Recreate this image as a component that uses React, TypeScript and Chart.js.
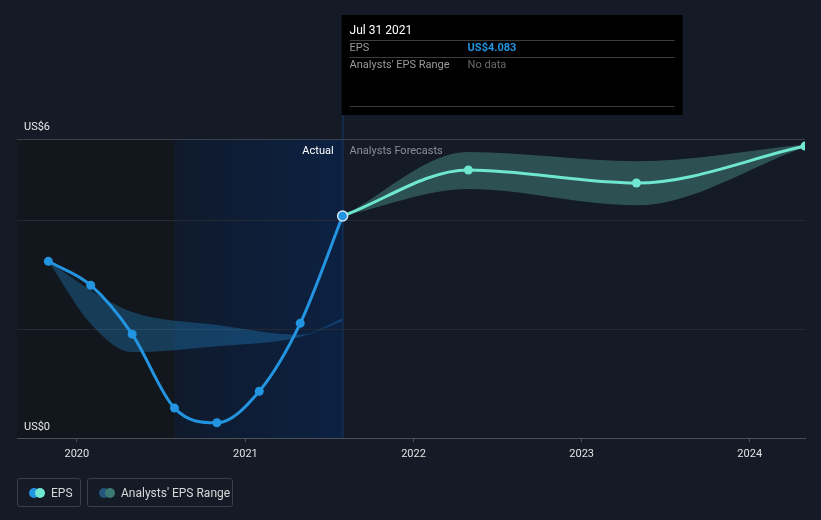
import React, { useEffect, useRef } from "react";
import { Chart, registerables } from "chart.js";

Chart.register(...registerables);

const actualDates = ["2019-10-31", "2020-01-31", "2020-04-30", "2020-07-31", "2020-10-31", "2021-01-31", "2021-04-30", "2021-07-31"];
const actualEps = [3.25, 2.81, 1.91, 0.55, 0.28, 0.86, 2.11, 4.083];
const forecastDates = ["2021-07-31", "2022-04-30", "2023-04-30", "2024-04-30"];
const forecastEps = [4.083, 4.93, 4.69, 5.37];
const forecastLow = [4.083, 4.58, 4.28, 5.35];
const forecastHigh = [4.083, 5.26, 5.09, 5.4];
const pastRangeDates = ["2019-10-31", "2020-01-31", "2020-04-30", "2020-10-31", "2021-04-30", "2021-07-31"];
const pastLow = [3.25, 2.1, 1.58, 1.69, 1.86, 2.15];
const pastHigh = [3.25, 2.72, 2.32, 2.08, 1.9, 2.2];
const yearTicks = [2020, 2021, 2022, 2023, 2024];
const yTickValues = [0, 2, 4, 5.5];
const yLabelTop = "US$6";
const yLabelBottom = "US$0";
const highlightStart = "2020-07-31";
const highlightEnd = "2021-07-31";
const tooltipDate = "Jul 31 2021";
const tooltipEps = "US$4.083";

const t = (d: string) => Date.parse(d + "T00:00:00Z");
const pts = (dates: string[], vals: number[]) => dates.map((d, i) => ({ x: t(d), y: vals[i] }));

const FONT = "Roboto, 'Noto Sans', sans-serif";

const overlayPlugin = {
  id: "overlay",
  beforeDraw(chart: any) {
    const { ctx, chartArea: a, scales } = chart;
    const x = scales.x;
    const x1 = x.getPixelForValue(t(highlightStart));
    const x2 = x.getPixelForValue(t(highlightEnd));
    ctx.save();
    ctx.fillStyle = "#12161d";
    ctx.fillRect(a.left, a.top, x1 - a.left, a.bottom - a.top);
    const g = ctx.createLinearGradient(x1, 0, x2, 0);
    g.addColorStop(0, "#0f1a2c");
    g.addColorStop(1, "#0c2142");
    ctx.fillStyle = g;
    ctx.fillRect(x1, a.top, x2 - x1, a.bottom - a.top);
    ctx.fillStyle = "#123058";
    ctx.fillRect(x2 - 0.5, 115, 1.5, a.bottom - 115);
    ctx.restore();
  },
  afterDraw(chart: any) {
    const { ctx, chartArea: a, scales } = chart;
    const x2 = scales.x.getPixelForValue(t(highlightEnd));
    ctx.save();
    ctx.font = `11px ${FONT}`;
    ctx.textBaseline = "middle";
    ctx.fillStyle = "#e8e8e8";
    ctx.textAlign = "left";
    ctx.fillText(yLabelTop, 24, a.top - 12);
    ctx.fillText(yLabelBottom, 24, a.bottom - 11);
    ctx.textAlign = "right";
    ctx.fillStyle = "#ffffff";
    ctx.fillText("Actual", x2 - 9, a.top + 12);
    ctx.textAlign = "left";
    ctx.fillStyle = "#8a8f98";
    ctx.fillText("Analysts Forecasts", x2 + 7, a.top + 12);

    // tooltip
    const left = x2 - 1;
    ctx.fillStyle = "#000000";
    ctx.fillRect(left, 15, 341, 100);
    ctx.fillStyle = "#ffffff";
    ctx.font = `12px ${FONT}`;
    ctx.fillText(tooltipDate, left + 8, 31);
    ctx.fillStyle = "#3c3c3c";
    ctx.fillRect(left + 8, 40, 325, 1);
    ctx.fillRect(left + 8, 57, 325, 1);
    ctx.fillRect(left + 8, 106, 325, 1);
    ctx.font = `11px ${FONT}`;
    ctx.fillStyle = "#9a9a9a";
    ctx.fillText("EPS", left + 8, 48);
    ctx.fillText("Analysts' EPS Range", left + 8, 65);
    ctx.fillStyle = "#2394df";
    ctx.font = `bold 11px ${FONT}`;
    ctx.fillText(tooltipEps, left + 126, 48);
    ctx.fillStyle = "#6a6a6a";
    ctx.font = `11px ${FONT}`;
    ctx.fillText("No data", left + 126, 65);
    ctx.restore();
  },
};

export default function App() {
  const ref = useRef<HTMLCanvasElement>(null);
  useEffect(() => {
    if (!ref.current) return;
    Chart.defaults.font.family = FONT;
    const lastIdx = actualEps.length - 1;
    const chart = new Chart(ref.current, {
      type: "line",
      data: {
        datasets: [
          {
            label: "pastLow",
            data: pts(pastRangeDates, pastLow),
            borderWidth: 0,
            pointRadius: 0,
            cubicInterpolationMode: "monotone",
            fill: false,
            order: 3,
          },
          {
            label: "pastHigh",
            data: pts(pastRangeDates, pastHigh),
            borderWidth: 0,
            pointRadius: 0,
            cubicInterpolationMode: "monotone",
            backgroundColor: "rgba(35,148,223,0.3)",
            fill: { target: 0 },
            order: 3,
          },
          {
            label: "fcLow",
            data: pts(forecastDates, forecastLow),
            borderWidth: 0,
            pointRadius: 0,
            cubicInterpolationMode: "monotone",
            fill: false,
            order: 3,
          },
          {
            label: "fcHigh",
            data: pts(forecastDates, forecastHigh),
            borderWidth: 0,
            pointRadius: 0,
            cubicInterpolationMode: "monotone",
            backgroundColor: "rgba(110,230,208,0.27)",
            fill: { target: 2 },
            order: 3,
          },
          {
            label: "EPS forecast",
            data: pts(forecastDates, forecastEps),
            borderColor: "#6ee6d0",
            backgroundColor: "#6ee6d0",
            borderWidth: 3,
            pointRadius: forecastEps.map((_, i) => (i === 0 ? 0 : 4.5)),
            pointBorderWidth: 0,
            cubicInterpolationMode: "monotone",
            fill: false,
            order: 2,
          },
          {
            label: "EPS",
            data: pts(actualDates, actualEps),
            borderColor: "#2394df",
            backgroundColor: "#2394df",
            borderWidth: 3,
            pointRadius: actualEps.map((_, i) => (i === lastIdx ? 5 : 4.5)),
            pointBorderWidth: actualEps.map((_, i) => (i === lastIdx ? 1.5 : 0)),
            pointBorderColor: actualEps.map((_, i) => (i === lastIdx ? "#d6e8f7" : "#2394df")),
            cubicInterpolationMode: "monotone",
            fill: false,
            order: 1,
          },
        ],
      },
      options: {
        animation: false,
        responsive: true,
        maintainAspectRatio: false,
        layout: { padding: { left: 17, right: 16, top: 139, bottom: 0 } },
        plugins: { legend: { display: false }, tooltip: { enabled: false } },
        scales: {
          x: {
            type: "linear",
            min: Date.UTC(2019, 7, 24),
            max: Date.UTC(2024, 3, 30),
            afterBuildTicks: (s: any) => {
              s.ticks = yearTicks.map((y) => ({ value: Date.UTC(y, 0, 1) }));
            },
            afterFit: (s: any) => {
              s.height = 82;
            },
            ticks: {
              color: "#e0e0e0",
              font: { size: 11, family: FONT },
              padding: 6,
              maxRotation: 0,
              autoSkip: false,
              callback: (v: any) => String(new Date(v).getUTCFullYear()),
            },
            grid: { drawOnChartArea: false, drawTicks: true, tickLength: 4, color: "#4a4f58" },
            border: { display: true, color: "#4a4f58", width: 1 },
          },
          y: {
            type: "linear",
            min: 0,
            max: 5.5,
            afterBuildTicks: (s: any) => {
              s.ticks = yTickValues.map((v) => ({ value: v }));
            },
            afterFit: (s: any) => {
              s.width = 0;
            },
            ticks: { display: false },
            grid: {
              drawTicks: false,
              color: (c: any) => (c.tick && c.tick.value === 5.5 ? "#3b404b" : c.tick && c.tick.value === 0 ? "rgba(0,0,0,0)" : "#252b35"),
            },
            border: { display: false },
          },
        },
      },
      plugins: [overlayPlugin],
    } as any);
    return () => chart.destroy();
  }, []);

  const box: React.CSSProperties = {
    position: "absolute",
    top: 478,
    height: 29,
    boxSizing: "border-box",
    border: "1px solid #3a3f4a",
    borderRadius: 3,
    display: "flex",
    alignItems: "center",
    fontFamily: FONT,
    fontSize: 12,
    color: "#d8d8d8",
  };
  const dot = (c: string, l: number): React.CSSProperties => ({
    position: "absolute",
    left: l,
    top: 9,
    width: 10,
    height: 10,
    borderRadius: 5,
    background: c,
  });

  return (
    <div style={{ position: "fixed", left: 0, top: 0, width: 821, height: 520, background: "#151b26" }}>
      <canvas ref={ref} width={821} height={520} style={{ position: "absolute", left: 0, top: 0, width: 821, height: 520 }} />
      <div style={{ ...box, left: 17, width: 64 }}>
        <span style={dot("#2394df", 11)} />
        <span style={dot("#6ee6d0", 17)} />
        <span style={{ position: "absolute", left: 33 }}>EPS</span>
      </div>
      <div style={{ ...box, left: 87, width: 146 }}>
        <span style={dot("#25557c", 11)} />
        <span style={dot("#3a7a72", 17)} />
        <span style={{ position: "absolute", left: 33 }}>Analysts' EPS Range</span>
      </div>
    </div>
  );
}
